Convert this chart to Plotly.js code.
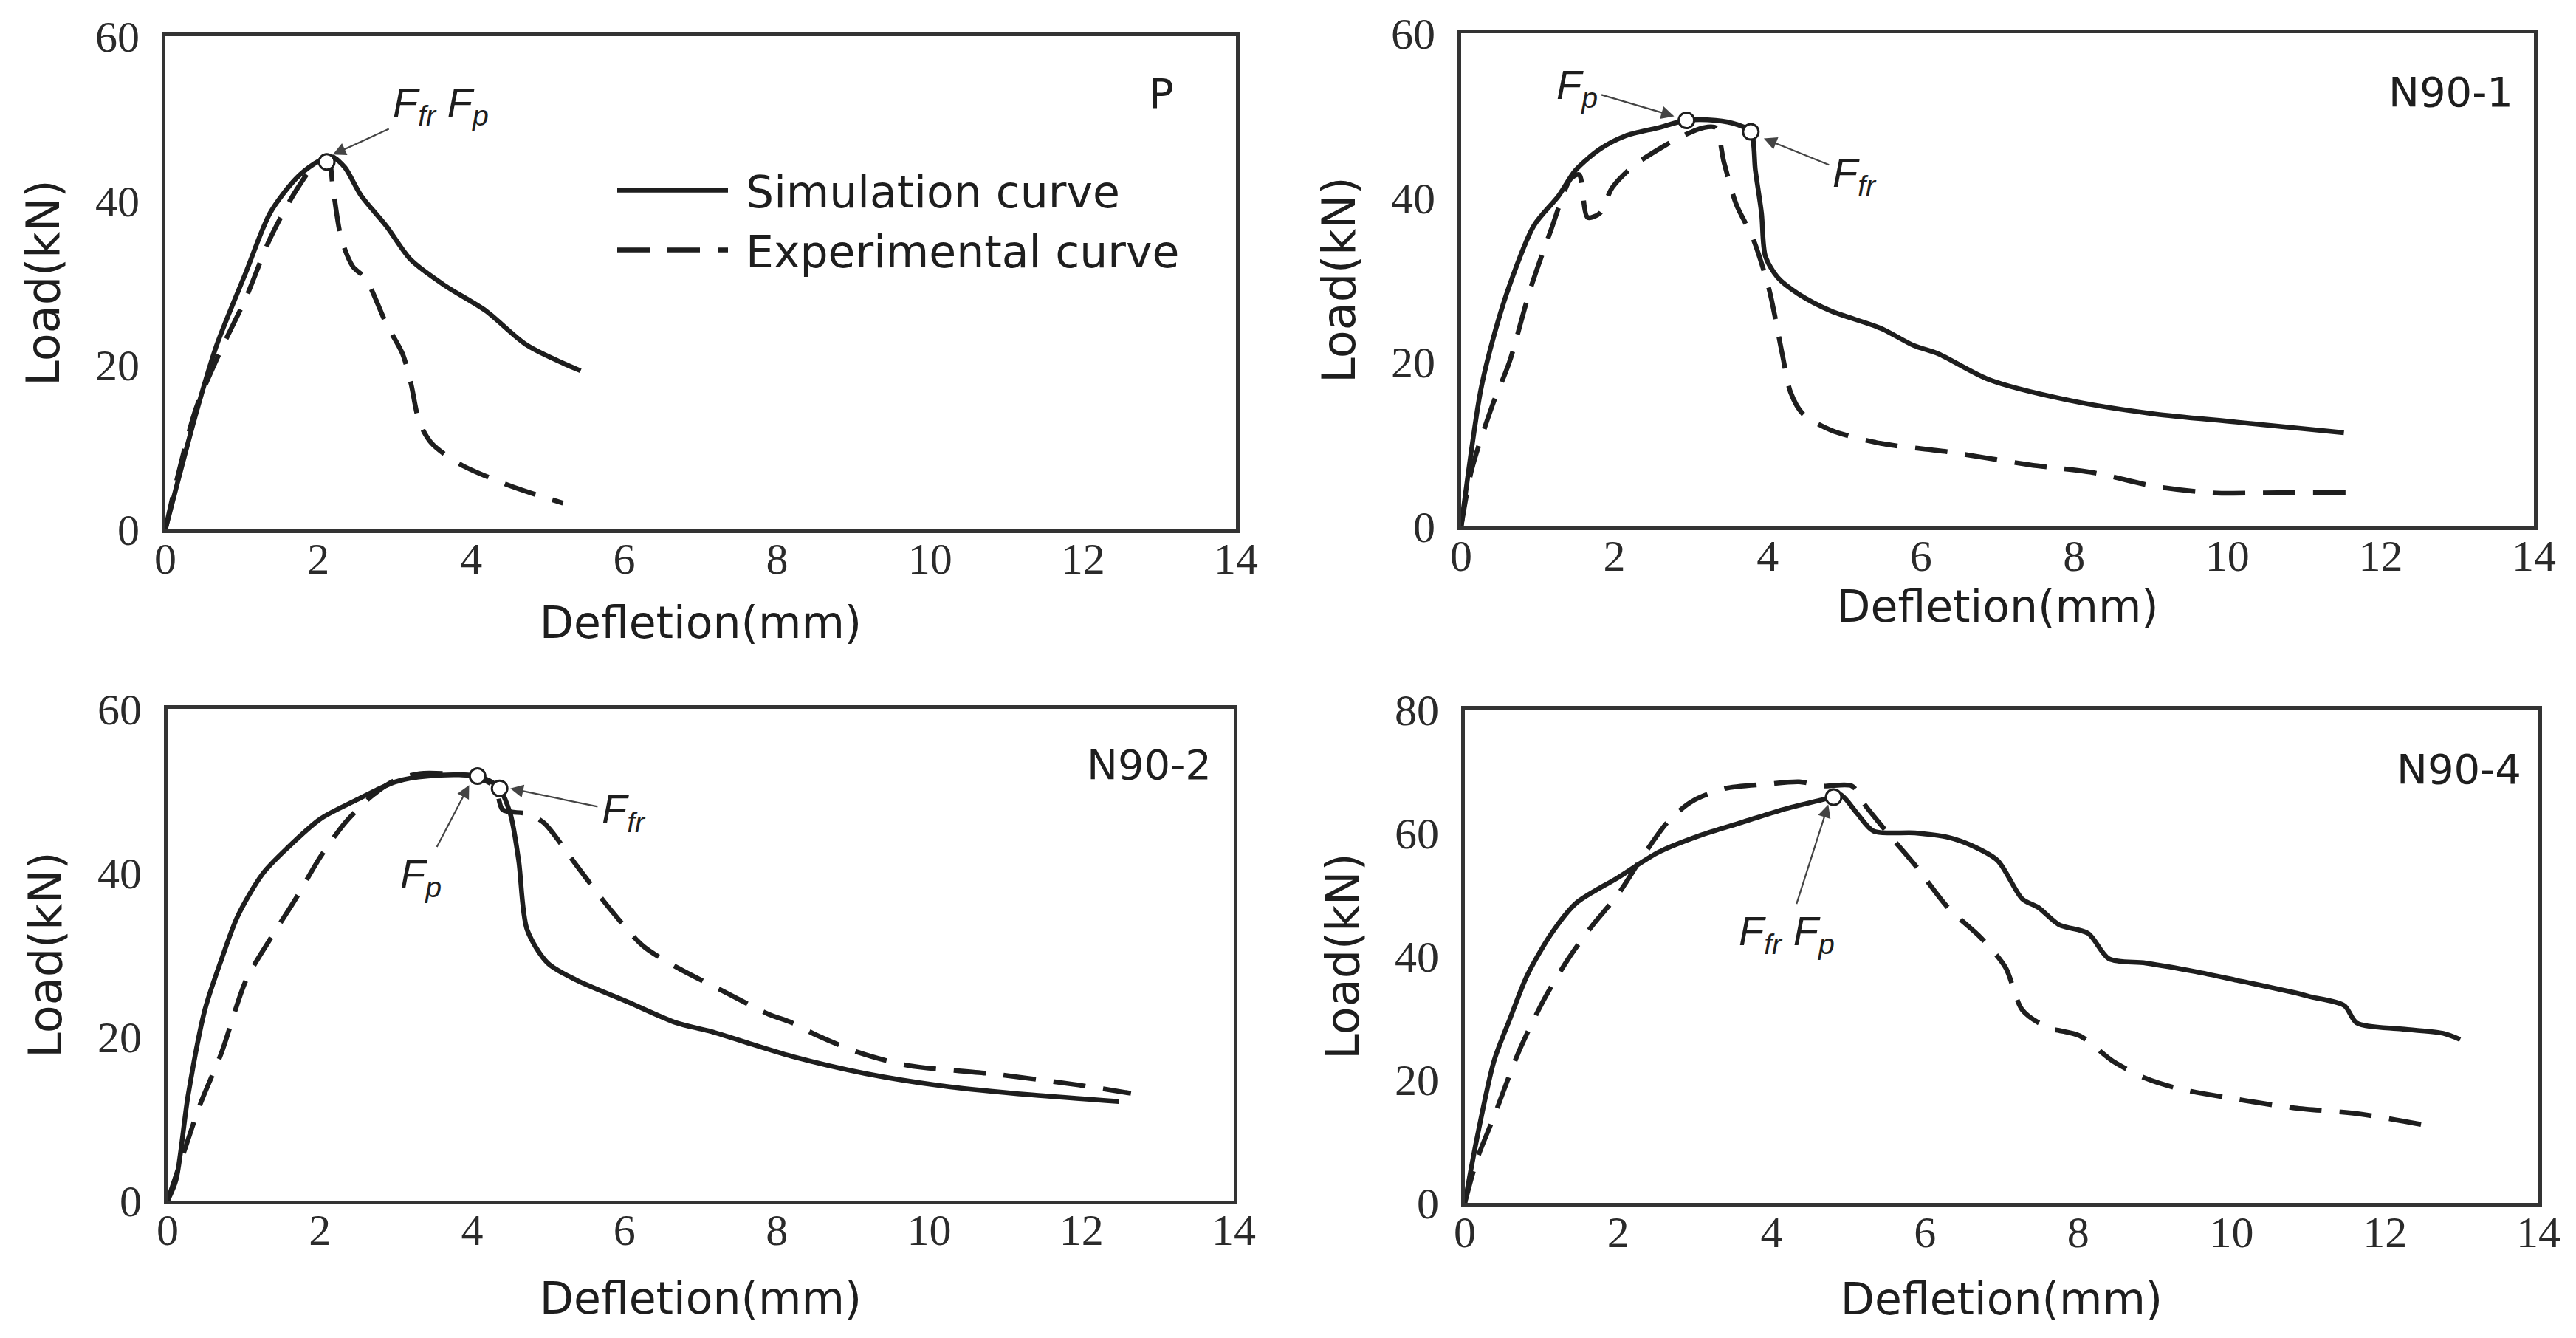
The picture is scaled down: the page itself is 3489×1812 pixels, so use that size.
<!DOCTYPE html>
<html>
<head>
<meta charset="utf-8">
<script src="https://cdn.plot.ly/plotly-3.0.1.min.js"></script>
<style>html,body{margin:0;padding:0;background:#fff;}#chart{width:3489px;height:1812px;}</style>
</head>
<body>
<div id="chart"></div>
<script>
// ---------- Data ----------
var panelNames = ['P', 'N90-1', 'N90-2', 'N90-4'];
var xTickVals = [0, 2, 4, 6, 8, 10, 12, 14];
var yTickValsA = [0, 20, 40, 60];
var yTickValsB = [0, 20, 40, 60, 80];

// P
var pSimX = [0,0.4,0.67,1.05,1.37,1.7,1.95,2.1,2.19,2.35,2.56,2.89,3.21,3.65,4.19,4.73,5.43];
var pSimY = [0,14.1,22.4,31.2,38.5,42.6,44.5,45.2,45.3,44.0,40.6,36.9,32.8,29.7,26.6,22.4,19.3];
var pExpX = [0,0.13,0.4,0.73,1.05,1.37,1.7,1.97,2.13,2.19,2.3,2.45,2.62,2.89,3.1,3.21,3.32,3.48,3.86,4.51,5.2];
var pExpY = [0,5.3,14.7,21.9,28.1,35.4,41.1,44.5,45.0,41.6,35.4,32.0,30.5,25.0,21.4,17.8,13.1,10.5,7.9,5.3,3.2];

// N90-1
var n1SimX = [0,0.25,0.41,0.63,0.95,1.27,1.49,1.81,2.14,2.57,2.94,3.32,3.6,3.78,3.84,3.92,3.97,4.13,4.4,4.83,5.48,5.91,6.23,6.88,7.96,9.04,10.12,11.52];
var n1SimY = [0,16.3,22.6,29.3,36.6,40.2,43.3,45.9,47.5,48.5,49.4,49.4,48.9,48.0,43.3,38.1,32.9,30.3,28.3,26.2,24.1,22.0,21.0,17.9,15.3,13.7,12.7,11.4];
var n1ExpX = [0,0.14,0.41,0.63,0.9,1.17,1.43,1.54,1.65,1.81,1.97,2.24,2.67,2.89,3.16,3.32,3.43,3.59,3.81,4.02,4.19,4.3,4.46,4.83,5.48,6.34,7.42,8.28,9.04,9.8,10.66,11.63];
var n1ExpY = [0,7.0,14.8,20.0,28.8,36.0,42.3,42.8,37.6,38.1,41.2,43.8,46.4,47.5,48.5,48.5,44.3,39.2,35.0,28.8,21.0,16.3,13.7,11.7,10.1,9.1,7.5,6.5,4.9,4.1,4.1,4.1];

// N90-2
var n2SimX = [0,0.11,0.27,0.49,0.71,0.92,1.25,1.57,2.01,2.44,2.99,3.42,4.07,4.34,4.5,4.61,4.72,4.99,5.37,6.03,6.68,7.11,8.2,9.17,10.26,11.35,12.49];
var n2SimY = [0,2.5,12.9,23.3,29.5,34.7,39.9,43.0,46.6,48.7,51.1,51.8,51.8,50.5,47.2,41.5,33.1,29.0,26.9,24.3,21.7,20.7,17.6,15.5,13.9,12.9,12.1];
var n2ExpX = [0,0.22,0.43,0.71,1.03,1.36,1.68,2.01,2.33,2.66,2.99,3.31,3.64,4.0,4.3,4.4,4.72,4.94,5.37,5.8,6.24,6.68,7.33,7.88,8.2,8.52,9.07,9.72,10.8,11.89,12.65];
var n2ExpY = [0,6.1,11.8,18.1,26.9,32.1,36.8,42.0,46.1,49.2,51.3,52.1,52.1,51.8,50.5,47.7,47.2,46.1,40.9,35.7,31.1,28.5,25.4,22.8,21.7,20.2,18.1,16.5,15.5,14.2,13.1];

// N90-4
var n4SimX = [0,0.16,0.38,0.59,0.81,1.13,1.45,1.99,2.53,3.07,3.61,4.15,4.79,4.9,5.12,5.33,5.87,6.3,6.62,6.95,7.27,7.48,7.75,8.13,8.4,8.88,9.53,10.07,10.82,11.04,11.47,11.63,12.22,12.76,12.98];
var n4SimY = [0,10.6,23.0,29.9,36.8,43.7,48.6,52.7,56.9,59.6,61.7,63.8,65.8,66.2,63.1,60.3,60.0,59.3,57.9,55.5,49.3,47.9,45.1,43.7,39.6,38.9,37.5,36.1,34.1,33.4,32.0,29.2,28.2,27.5,26.5];
var n4ExpX = [0,0.16,0.38,0.7,1.02,1.35,1.67,1.99,2.32,2.64,2.96,3.39,3.93,4.36,4.68,5.05,5.22,5.54,5.87,6.3,6.73,7.05,7.27,7.59,8.02,8.45,8.88,9.32,10.07,10.82,11.68,12.65];
var n4ExpY = [0,7.1,14.0,24.4,32.7,39.6,45.1,49.9,56.2,61.7,65.1,67.2,67.9,68.3,67.6,67.6,64.5,59.6,54.8,47.9,43.0,38.2,31.3,28.5,27.1,23.0,20.2,18.5,16.8,15.4,14.4,12.3];

// Characteristic points (open circles)
var pPointX = [2.11];       var pPointY = [44.7];
var n1PointX = [2.94, 3.78]; var n1PointY = [49.4, 48.0];
var n2PointX = [4.07, 4.36]; var n2PointY = [51.8, 50.3];
var n4PointX = [4.81];      var n4PointY = [65.8];

var legendNames = ['\u00A0Simulation curve', '\u00A0Experimental curve'];

// ---------- Styling ----------
var INK = '#1e1e1e';
var FRAME = '#333333';
var sansFont = 'DejaVu Sans, Liberation Sans, Arial, sans-serif';
var serifFont = 'Liberation Serif, Times New Roman, serif';

var panels = [
  {sx: pSimX, sy: pSimY, ex: pExpX, ey: pExpY, px: pPointX, py: pPointY, ymax: 60, yt: yTickValsA},
  {sx: n1SimX, sy: n1SimY, ex: n1ExpX, ey: n1ExpY, px: n1PointX, py: n1PointY, ymax: 60, yt: yTickValsA},
  {sx: n2SimX, sy: n2SimY, ex: n2ExpX, ey: n2ExpY, px: n2PointX, py: n2PointY, ymax: 60, yt: yTickValsA},
  {sx: n4SimX, sy: n4SimY, ex: n4ExpX, ey: n4ExpY, px: n4PointX, py: n4PointY, ymax: 80, yt: yTickValsB}
];

var W = 3489, H = 1812;
// plot-area boxes in page pixels: [left, right, top, bottom]
var boxes = [
  [224, 1674, 49, 717],
  [1979, 3432, 45, 713],
  [227, 1671, 960, 1626],
  [1984, 3438, 961, 1629]
];
var xTitleStandoff = [34, 5, 40, 38];

var traces = [];
var layout = {
  width: W, height: H,
  margin: {l: 0, r: 0, t: 0, b: 0},
  paper_bgcolor: '#ffffff',
  plot_bgcolor: '#ffffff',
  showlegend: true,
  legend: {
    x: 831 / W, y: 1 - 212 / H, xanchor: 'left', yanchor: 'top',
    bgcolor: 'rgba(0,0,0,0)', borderwidth: 0,
    font: {family: sansFont, size: 60, color: INK},
    itemwidth: 150, tracegroupgap: 0
  },
  annotations: [],
  shapes: []
};

panels.forEach(function (p, i) {
  var n = i + 1;
  var xa = 'x' + (n === 1 ? '' : n);
  var ya = 'y' + (n === 1 ? '' : n);
  traces.push({
    x: p.sx, y: p.sy, xaxis: xa, yaxis: ya, type: 'scatter', mode: 'lines',
    name: legendNames[0], legendgroup: 'sim', showlegend: i === 0,
    line: {color: INK, width: 6.5, dash: 'solid', shape: 'spline', smoothing: 0.8}
  });
  traces.push({
    x: p.ex, y: p.ey, xaxis: xa, yaxis: ya, type: 'scatter', mode: 'lines',
    name: legendNames[1], legendgroup: 'exp', showlegend: i === 0,
    line: {color: INK, width: 6.5, dash: '44px,24px', shape: 'spline', smoothing: 0.8}
  });
  traces.push({
    x: p.px, y: p.py, xaxis: xa, yaxis: ya, type: 'scatter', mode: 'markers',
    showlegend: false, hoverinfo: 'skip',
    marker: {symbol: 'circle', size: 21, color: '#ffffff', line: {color: INK, width: 3}}
  });
  var b = boxes[i];
  var xkey = 'xaxis' + (n === 1 ? '' : n);
  var ykey = 'yaxis' + (n === 1 ? '' : n);
  layout[xkey] = {
    domain: [b[0] / W, b[1] / W], anchor: ya, range: [0, 14],
    tickmode: 'array', tickvals: xTickVals, ticktext: xTickVals.map(String),
    ticks: '', showgrid: false, zeroline: false,
    showline: true, mirror: true, linewidth: 5, linecolor: FRAME,
    tickfont: {family: serifFont, size: 60, color: '#2a2a2a'},
    ticklabelstandoff: -17,
    title: {text: 'Defletion(mm)', font: {family: sansFont, size: 60, color: INK}, standoff: xTitleStandoff[i]}
  };
  layout[ykey] = {
    domain: [1 - b[3] / H, 1 - b[2] / H], anchor: xa, range: [0, p.ymax],
    tickmode: 'array', tickvals: p.yt, ticktext: p.yt.map(String),
    ticks: '', showgrid: false, zeroline: false,
    showline: true, mirror: true, linewidth: 5, linecolor: FRAME,
    tickfont: {family: serifFont, size: 60, color: '#2a2a2a'},
    ticklabelstandoff: 18,
    title: {text: 'Load(kN)', font: {family: sansFont, size: 62, color: INK}, standoff: 30}
  };
});

// panel labels
var labelPos = [[13.21, 53], [13.75, 52.9], [13.73, 53.2], [13.8, 70.4]];
panelNames.forEach(function (name, i) {
  var n = i + 1;
  layout.annotations.push({
    xref: 'x' + (n === 1 ? '' : n), yref: 'y' + (n === 1 ? '' : n),
    x: labelPos[i][0], y: labelPos[i][1], xanchor: 'right', yanchor: 'middle',
    text: name, showarrow: false,
    font: {family: sansFont, size: 56, color: INK}
  });
});

// F labels with arrows pointing at the characteristic points
var FFR = '<i>F</i><sub><i>fr</i></sub>';
var FP = '<i>F</i><sub><i>p</i></sub>';
var fFont = {family: 'Liberation Sans, Arial, sans-serif', size: 56, color: INK};
var fLabels = [
  {ax: '',  t: FFR + ' ' + FP, lx: 3.6,  ly: 51.6, hx: 2.19, hy: 45.6},
  {ax: '2', t: FP,             lx: 1.51, ly: 53.4, hx: 2.78, hy: 49.9},
  {ax: '2', t: FFR,            lx: 5.14, ly: 42.7, hx: 3.95, hy: 47.2},
  {ax: '3', t: FP,             lx: 3.33, ly: 39.5, hx: 3.96, hy: 50.7},
  {ax: '3', t: FFR,            lx: 5.99, ly: 47.4, hx: 4.5,  hy: 50.3},
  {ax: '4', t: FFR + ' ' + FP, lx: 4.2,  ly: 43.6, hx: 4.74, hy: 64.6}
];
fLabels.forEach(function (l) {
  layout.annotations.push({
    xref: 'x' + l.ax, yref: 'y' + l.ax, axref: 'x' + l.ax, ayref: 'y' + l.ax,
    x: l.hx, y: l.hy, ax: l.lx, ay: l.ly,
    xanchor: 'center', yanchor: 'middle', text: l.t, font: fFont,
    showarrow: true, arrowhead: 2, arrowsize: 1.6, arrowwidth: 2.2,
    arrowcolor: '#444444', standoff: 0, startstandoff: 4
  });
});

Plotly.newPlot('chart', traces, layout, {staticPlot: true});
</script>
</body>
</html>
